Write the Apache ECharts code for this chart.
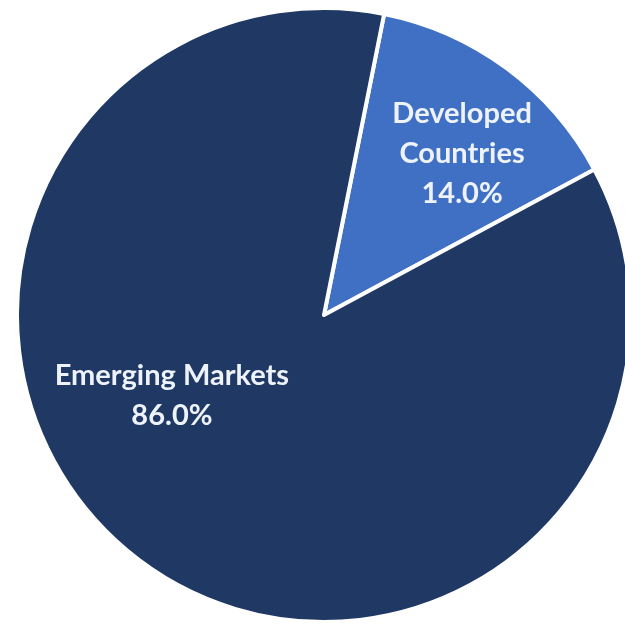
<!DOCTYPE html>
<html>
<head>
<meta charset="utf-8">
<script src="https://cdn.jsdelivr.net/npm/echarts@6/dist/echarts.min.js"></script>
<style>
html,body{margin:0;padding:0;background:#fff;}
#chart{width:625px;height:629px;}
</style>
</head>
<body>
<div id="chart"></div>
<script>
const categories = ["Developed\nCountries", "Emerging Markets"];
const shares = [14.0, 86.0];
const sliceColors = ["#4070c4", "#1f3864"];
const labelShift = [[45, -36], [-59, -45]];

const chart = echarts.init(document.getElementById('chart'), null, {renderer: 'canvas'});
chart.setOption({
  animation: false,
  backgroundColor: '#ffffff',
  series: [{
    type: 'pie',
    center: [324, 315],
    radius: [0, 307],
    startAngle: 78.7,
    clockwise: true,
    avoidLabelOverlap: false,
    itemStyle: {borderColor: '#ffffff', borderWidth: 4},
    label: {
      show: true,
      position: 'inside',
      formatter: p => p.name + '\n' + p.value.toFixed(1) + '%',
      color: '#eef3fb',
      fontFamily: 'Lato',
      fontWeight: 'bold',
      fontSize: 29,
      lineHeight: 40,
      align: 'center'
    },
    labelLine: {show: false},
    labelLayout: function (params) {
      const s = labelShift[params.dataIndex];
      return {dx: s[0], dy: s[1]};
    },
    data: categories.map((c, i) => ({name: c, value: shares[i], itemStyle: {color: sliceColors[i]}}))
  }]
});
</script>
</body>
</html>
